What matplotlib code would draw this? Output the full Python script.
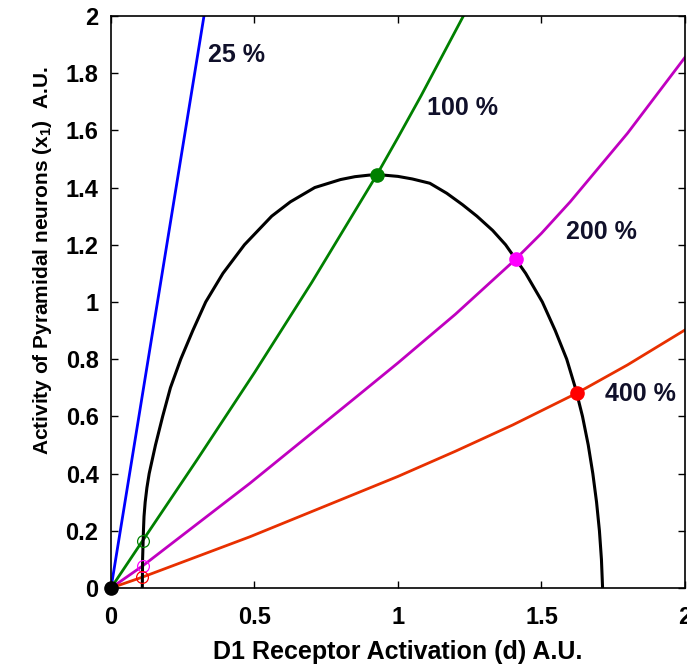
import numpy as np
import matplotlib
matplotlib.use('Agg')
import matplotlib.pyplot as plt

plt.rcParams['font.family'] = ['Liberation Sans', 'DejaVu Sans']
plt.rcParams['font.weight'] = 'bold'
plt.rcParams['mathtext.default'] = 'regular'

# nullcline (black curve)
null_d = [0.109, 0.110, 0.113, 0.115, 0.119, 0.125, 0.133, 0.155, 0.18, 0.207,
          0.243, 0.285, 0.33, 0.39, 0.465, 0.56, 0.625, 0.71, 0.80, 0.85,
          0.90, 0.926, 0.95, 1.0, 1.05, 1.111, 1.17, 1.225, 1.275, 1.33,
          1.375, 1.41, 1.445, 1.503, 1.548, 1.588, 1.618, 1.643, 1.663, 1.679,
          1.692, 1.702, 1.709, 1.713]
null_x1 = [0.0, 0.1, 0.2, 0.25, 0.3, 0.35, 0.4, 0.5, 0.6, 0.7,
           0.8, 0.9, 1.0, 1.1, 1.2, 1.3, 1.35, 1.4, 1.428, 1.438,
           1.4435, 1.444, 1.4435, 1.439, 1.43, 1.415, 1.38, 1.34, 1.3, 1.25,
           1.2, 1.15, 1.1, 1.0, 0.9, 0.8, 0.7, 0.6, 0.5, 0.4,
           0.3, 0.2, 0.1, 0.0]

# dopamine levels
d_25 = [0.0, 0.324]
x_25 = [0.0, 2.0]
d_100 = [0.0, 0.11, 0.3, 0.5, 0.7, 0.926, 1.0, 1.08, 1.228]
x_100 = [0.0, 0.165, 0.4485, 0.753, 1.069, 1.444, 1.575, 1.72, 2.0]
d_200 = [0.0, 0.11, 0.484, 0.856, 1.0, 1.2, 1.4, 1.5, 1.6, 1.8, 2.0]
x_200 = [0.0, 0.077, 0.366, 0.669, 0.787, 0.957, 1.14, 1.24, 1.35, 1.59, 1.855]
d_400 = [0.0, 0.107, 0.484, 1.0, 1.2, 1.4, 1.623, 1.8, 2.0]
x_400 = [0.0, 0.037, 0.179, 0.39, 0.478, 0.57, 0.681, 0.78, 0.902]

# fixed points (stable = filled, unstable = open)
stable_d = [0.926, 1.411, 1.623]
stable_x = [1.444, 1.149, 0.681]
unstable_d = [0.11, 0.11, 0.107]
unstable_x = [0.165, 0.077, 0.037]
stable_col = ['#008000', '#ff00ff', '#ff0000']

labels = ['25 %', '100 %', '200 %', '400 %']
label_pos = [(0.338, 1.865), (1.10, 1.678), (1.585, 1.246), (1.721, 0.678)]

fig = plt.figure(figsize=(6.87, 6.64), dpi=100)
ax = fig.add_axes([0.1616, 0.1145, 0.8354, 0.8615])

ax.plot(d_25, x_25, color='#0000ff', lw=2)
ax.plot(d_100, x_100, color='#008000', lw=2)
ax.plot(d_200, x_200, color='#c000c0', lw=2)
ax.plot(d_400, x_400, color='#e83000', lw=2)
ax.plot(null_d, null_x1, color='k', lw=2.2)

for i in range(3):
    ax.plot(stable_d[i], stable_x[i], 'o', color=stable_col[i], ms=9.5, zorder=5)
    ax.plot(unstable_d[i], unstable_x[i], 'o', mfc='none', mec=stable_col[i],
            ms=8.5, mew=0.9, zorder=5)
ax.plot(0, 0, 'o', color='k', ms=9.5, clip_on=False, zorder=6)

for t, (px, py) in zip(labels, label_pos):
    ax.text(px, py, t, fontsize=18, fontweight='bold', color='#10102a',
            ha='left', va='center')

ax.set_xlim(0, 2)
ax.set_ylim(0, 2)
ax.set_xticks([0, 0.5, 1, 1.5, 2])
ax.set_xticklabels(['0', '0.5', '1', '1.5', '2'])
ax.set_yticks(np.arange(0, 2.01, 0.2))
ax.set_yticklabels(['0', '0.2', '0.4', '0.6', '0.8', '1', '1.2', '1.4', '1.6', '1.8', '2'])
ax.tick_params(direction='in', top=True, right=True, length=5, width=1,
               labelsize=17, pad=9)
ax.tick_params(axis='x', pad=13)
for s in ax.spines.values():
    s.set_linewidth(1.2)

ax.set_xlabel('D1 Receptor Activation (d) A.U.', fontsize=18, fontweight='bold',
              labelpad=8)
ax.set_ylabel('Activity of Pyramidal neurons (x$_1$)  A.U.', fontsize=15,
              fontweight='bold')
ax.yaxis.set_label_coords(-0.10, 0.573)

fig.savefig('out.png', dpi=100)
